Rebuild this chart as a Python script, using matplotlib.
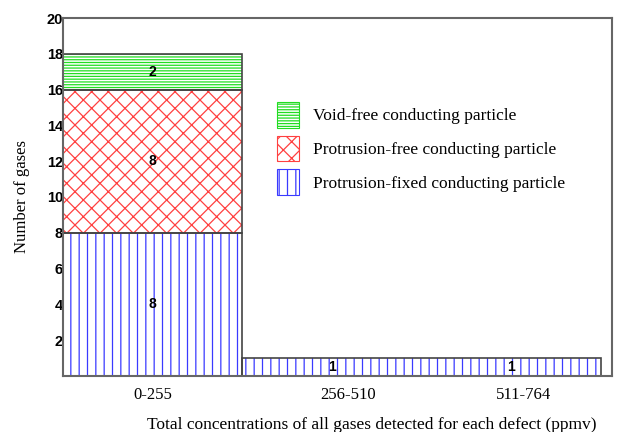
import numpy as np
import matplotlib.pyplot as plt
from matplotlib.patches import Patch

# dados
categorias = ["0-255", "256-510", "511-764"]
fixed = [8, 1, 1]      # Protrusion-fixed conducting particle
prot_free = [8, 0, 0]  # Protrusion-free conducting particle
void_free = [2, 0, 0]  # Void-free conducting particle
y_ticks = [2, 4, 6, 8, 10, 12, 14, 16, 18, 20]

serif = "Liberation Serif"
sans = "Liberation Sans"
plt.rcParams["hatch.linewidth"] = 0.9

fig = plt.figure(figsize=(6.23, 4.32), dpi=100)
ax = fig.add_axes([0.101, 0.130, 0.881, 0.828])

x = np.arange(len(categorias))
fixed = np.array(fixed)
prot_free = np.array(prot_free)
void_free = np.array(void_free)

series = [
    (fixed, np.zeros(3), "#3a3aff", "||", "Protrusion-fixed conducting particle"),
    (prot_free, fixed, "#ff4040", "xx", "Protrusion-free conducting particle"),
    (void_free, fixed + prot_free, "#22dd22", "------", "Void-free conducting particle"),
]

handles = []
for vals, base, cor, hatch, nome in series:
    m = vals > 0
    ax.bar(x[m], vals[m], bottom=base[m], width=1.0, color="white",
           edgecolor=cor, hatch=hatch, linewidth=0)
    for xi, v, b in zip(x[m], vals[m], base[m]):
        ax.text(xi, b + v / 2, str(v), ha="center", va="center",
                fontsize=10, fontweight="bold", family=sans)
    handles.append(Patch(facecolor="white", edgecolor=cor, hatch=hatch, label=nome))

# contornos: primeira coluna empilhada, as duas últimas como um só bloco
ax.bar(x[0], fixed[0], width=1.0, fill=False, edgecolor="#444444", linewidth=1.2)
ax.bar(x[0], prot_free[0], bottom=fixed[0], width=1.0, fill=False, edgecolor="#444444", linewidth=1.2)
ax.bar(x[0], void_free[0], bottom=fixed[0] + prot_free[0], width=1.0, fill=False,
       edgecolor="#444444", linewidth=1.2)
ax.bar((x[1] + x[2]) / 2, fixed[1], width=2.0, fill=False, edgecolor="#444444", linewidth=1.2)

ax.set_xlim(-0.5, 2.56)
ax.set_ylim(0, 20)
ax.set_yticks(y_ticks)
ax.set_yticklabels([str(t) for t in y_ticks], fontweight="bold", family=sans, fontsize=10.5)
ax.set_xticks([0, 1.09, 2.07])
ax.set_xticklabels(categorias, family=serif, fontsize=12)
ax.tick_params(axis="both", length=0)
ax.tick_params(axis="y", pad=0)
ax.tick_params(axis="x", pad=8)
for s in ax.spines.values():
    s.set_color("#666666")
    s.set_linewidth(1.5)

ax.set_ylabel("Number of gases", family=serif, fontsize=12)
ax.yaxis.set_label_coords(-0.06, 0.5)
ax.set_xlabel("Total concentrations of all gases detected for each defect (ppmv)",
              family=serif, fontsize=12.5)
ax.xaxis.set_label_coords(0.563, -0.115)

leg = ax.legend(handles=handles[::-1], loc="upper left", bbox_to_anchor=(0.374, 0.79),
                frameon=False, prop={"family": serif, "size": 12.5}, borderpad=0,
                handleheight=1.9, handlelength=1.3, labelspacing=0.46, handletextpad=0.8)
for h in leg.legend_handles:
    h.set_linewidth(0.8)

fig.savefig("out.png", dpi=100)
